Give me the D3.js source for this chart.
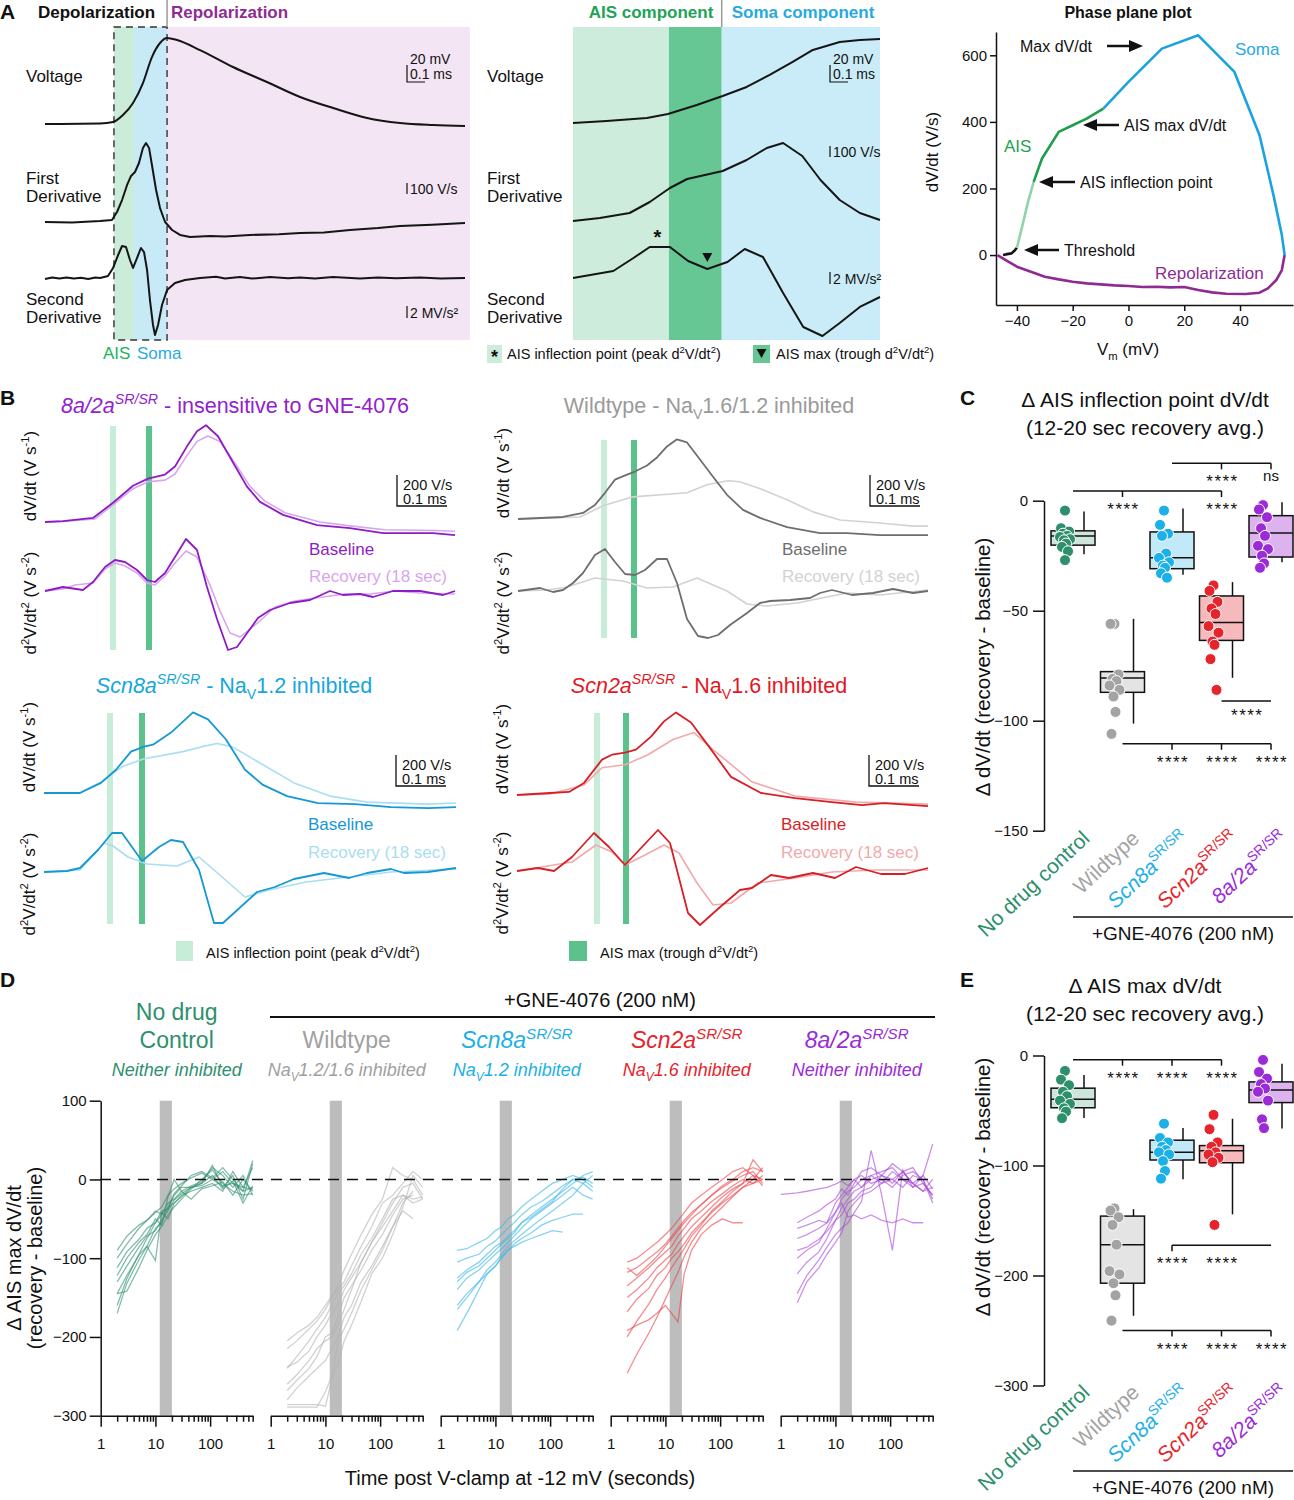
<!DOCTYPE html>
<html>
<head>
<meta charset="utf-8">
<title>AIS figure</title>
<script src="https://cdn.jsdelivr.net/npm/d3@7"></script>
<style>
  body { margin: 0; background: #fff; }
</style>
</head>
<body>
<script>
// ---------- panel A: one action potential (t in ms) ----------
const apVoltage = [[0,-45],[0.306,-44.4],[0.378,-42.6],[0.433,-34.4],[0.489,-20.3],[0.544,3.2],[0.594,33.8],[0.639,50.3],[0.678,56.2],[0.733,53.8],[0.861,42],[1.044,22.1],[1.233,4.4],[1.417,-13.2],[1.6,-26.2],[1.789,-37.9],[1.972,-43.8],[2.156,-46.2],[2.333,-47.4]];
const apFirst = [[0,0],[0.15,-5],[0.306,9],[0.372,18],[0.4,91],[0.428,200],[0.456,337],[0.478,419],[0.5,455],[0.522,537],[0.544,674],[0.561,719],[0.578,674],[0.594,519],[0.617,291],[0.639,127],[0.667,0],[0.706,-73],[0.75,-118],[0.806,-137],[0.917,-127],[1.0,-132],[1.139,-118],[1.3,-112],[1.417,-100],[1.55,-95],[1.694,-73],[1.85,-55],[1.972,-36],[2.15,-25],[2.333,-9]];
const apSecond = [[0,-0.15],[0.04,0.1],[0.08,-0.1],[0.12,0.1],[0.16,-0.1],[0.2,0.05],[0.24,-0.15],[0.28,0.1],[0.306,0],[0.35,0.33],[0.378,1.67],[0.406,3.83],[0.428,5.33],[0.45,5.17],[0.472,3],[0.489,1.67],[0.511,3.33],[0.533,5],[0.55,4.33],[0.567,1.33],[0.583,-3.67],[0.6,-7.83],[0.611,-9.5],[0.628,-7.83],[0.65,-4.5],[0.678,-2],[0.722,-0.83],[0.778,-0.33],[0.861,0],[0.95,0.2],[1.0,-0.1],[1.083,0.17],[1.15,-0.1],[1.25,0.15],[1.35,-0.05],[1.417,0.1],[1.5,-0.1],[1.6,0.15],[1.75,-0.1],[1.85,0.1],[1.95,-0.05],[2.083,0.1],[2.2,-0.1],[2.333,0]];
const apPhaseNames = ["AIS", "Soma", "Repolarization"];
const apPhaseBounds = [0.383, 0.494, 0.678, 2.36];

// zoomed depolarization
const zmVoltage = [[0,-45],[0.035,-42.6],[0.077,-39.1],[0.099,-34.4],[0.129,-23.8],[0.156,-13.2],[0.181,-2.6],[0.205,11.5],[0.229,26.8],[0.25,40.9],[0.278,50.3],[0.299,52.6],[0.32,53.8]];
const zmFirst = [[0,0],[0.028,30],[0.059,80],[0.08,190],[0.101,330],[0.119,420],[0.156,500],[0.181,610],[0.202,730],[0.219,780],[0.239,650],[0.258,410],[0.278,210],[0.299,80],[0.32,10]];
const zmSecond = [[0,0],[0.042,1.17],[0.063,3.33],[0.08,5.17],[0.101,5.17],[0.12,2.83],[0.14,1.5],[0.161,2.67],[0.179,4.83],[0.198,3.5],[0.219,-2.5],[0.24,-8.17],[0.26,-9.67],[0.278,-7.5],[0.299,-4.83],[0.32,-3.17]];
const zmPhaseBounds = [0, 0.1, 0.155, 0.32];
const zmInflection = [0.088, 5.17];
const zmTrough = [0.14, 1.5];

// phase plane (Vm in mV, dV/dt in V/s)
const ppThreshold = [[-45,0],[-44,2],[-42,5],[-41,12],[-40,22]];
const ppAisRise = [[-40,22],[-38,90],[-36,160],[-34,220]];
const ppAis = [[-34,220],[-31,290],[-28,330],[-25,370],[-20,390],[-15,410],[-9,440]];
const ppSoma = [[-9,440],[0,520],[12,620],[25,660],[38,550],[47,360],[52,180],[55,60],[56,0]];
const ppRepol = [[56,0],[55,-45],[53,-75],[50,-100],[47,-113],[42,-117],[35,-116],[30,-112],[25,-105],[20,-96],[15,-97],[10,-95],[5,-96],[0,-93],[-5,-91],[-10,-88],[-15,-85],[-20,-80],[-25,-73],[-30,-65],[-35,-50],[-40,-35],[-44,-15],[-47,0]];

// ---------- panel B: baseline / recovery derivatives (t in ms, V/s, MV/s^2) ----------
const b8a2aDv = [[0,0],[0.036,6],[0.096,26],[0.136,124],[0.176,234],[0.206,280],[0.24,306],[0.26,358],[0.284,488],[0.304,585],[0.322,624],[0.346,553],[0.376,384],[0.404,228],[0.43,130],[0.476,46],[0.544,-20],[0.61,-39],[0.676,-72],[0.776,-72],[0.82,-85]];
const b8a2aDvRec = [[0,0],[0.036,4],[0.1,20],[0.136,110],[0.176,215],[0.206,260],[0.24,270],[0.26,310],[0.284,430],[0.304,520],[0.326,555],[0.35,520],[0.38,380],[0.41,230],[0.44,135],[0.48,60],[0.55,0],[0.61,-25],[0.68,-50],[0.78,-55],[0.82,-60]];
const b8a2aD2 = [[0,0],[0.036,0.4],[0.076,0.1],[0.096,0.9],[0.12,2.4],[0.14,3.1],[0.16,2.9],[0.184,2.1],[0.204,1.1],[0.22,0.9],[0.24,1.8],[0.26,3.4],[0.282,5.2],[0.304,4.1],[0.324,0.4],[0.344,-2.8],[0.366,-5.9],[0.384,-5.6],[0.426,-2.7],[0.45,-1.9],[0.49,-1.2],[0.53,-0.9],[0.57,0],[0.596,-0.4],[0.63,-0.3],[0.656,-0.6],[0.696,0],[0.75,0],[0.796,-0.4],[0.82,0]];
const b8a2aD2Rec = [[0,0],[0.036,0.2],[0.06,0.6],[0.096,0.8],[0.12,2.2],[0.14,2.8],[0.16,2.5],[0.184,1.8],[0.204,0.8],[0.22,0.6],[0.24,1.5],[0.26,2.8],[0.282,4.0],[0.304,3.4],[0.33,0.6],[0.35,-2.0],[0.37,-4.2],[0.39,-4.6],[0.43,-3.0],[0.46,-1.6],[0.5,-1.0],[0.54,-0.7],[0.6,-0.3],[0.65,-0.3],[0.7,0],[0.75,-0.2],[0.82,-0.3]];

const bWtDv = [[0,0],[0.09,13],[0.13,39],[0.154,91],[0.174,169],[0.194,254],[0.218,286],[0.234,306],[0.258,345],[0.278,397],[0.298,468],[0.318,514],[0.338,494],[0.364,384],[0.39,273],[0.418,156],[0.45,59],[0.484,7],[0.538,-52],[0.604,-91],[0.658,-91],[0.724,-104],[0.82,-104]];
const bWtDvRec = [[0,0],[0.124,13],[0.17,85],[0.23,143],[0.338,169],[0.378,221],[0.42,247],[0.444,240],[0.49,189],[0.538,124],[0.59,46],[0.644,-6],[0.724,-26],[0.79,-46],[0.82,-46]];
const bWtD2 = [[0,0],[0.044,0.3],[0.07,-0.1],[0.09,0.1],[0.11,0.8],[0.13,1.8],[0.154,3.6],[0.174,4.2],[0.194,2.9],[0.214,1.7],[0.234,1.6],[0.254,2.1],[0.278,3.2],[0.298,3.2],[0.318,0.8],[0.338,-2.8],[0.36,-4.5],[0.38,-4.7],[0.4,-4.4],[0.424,-3.4],[0.458,-2.2],[0.484,-1.2],[0.504,-1.0],[0.544,-0.9],[0.584,-0.7],[0.604,-0.2],[0.628,0.1],[0.668,-0.4],[0.71,-0.2],[0.75,0.2],[0.79,-0.2],[0.82,0]];
const bWtD2Rec = [[0,0],[0.058,0.1],[0.098,0.4],[0.154,1.3],[0.21,1.0],[0.258,0.3],[0.31,0.4],[0.358,1.3],[0.418,0],[0.458,-1.3],[0.498,-1.5],[0.558,-1.2],[0.658,-0.2],[0.724,-0.4],[0.82,0.1]];

const bScn8aDv = [[0,0],[0.072,0],[0.114,65],[0.144,150],[0.174,267],[0.2,299],[0.218,312],[0.254,390],[0.298,520],[0.328,475],[0.364,345],[0.402,150],[0.438,52],[0.486,-20],[0.548,-65],[0.622,-72],[0.694,-91],[0.768,-98],[0.824,-91]];
const bScn8aDvRec = [[0,0],[0.072,3],[0.114,72],[0.156,169],[0.2,221],[0.278,267],[0.316,299],[0.346,319],[0.376,299],[0.438,182],[0.5,65],[0.572,-20],[0.646,-59],[0.768,-72],[0.824,-65]];
const bScn8aD2 = [[0,0],[0.046,0.1],[0.072,0.4],[0.108,2.2],[0.136,3.9],[0.156,3.9],[0.196,1.1],[0.23,2.5],[0.254,3.2],[0.278,3.0],[0.31,0.2],[0.34,-5.1],[0.358,-5.1],[0.426,-2.0],[0.462,-1.5],[0.5,-0.7],[0.56,-0.1],[0.61,-0.6],[0.646,-0.1],[0.694,0.3],[0.72,-0.1],[0.768,0],[0.824,0.4]];
const bScn8aD2Rec = [[0,0],[0.072,0.2],[0.12,2.9],[0.138,2.6],[0.168,1.5],[0.206,0.8],[0.266,0.6],[0.31,1.5],[0.34,0.2],[0.402,-2.5],[0.45,-1.8],[0.524,-1.0],[0.61,-0.5],[0.694,0],[0.824,0.3]];

const bScn2aDv = [[0,0],[0.066,13],[0.104,20],[0.134,78],[0.17,228],[0.19,260],[0.216,273],[0.238,293],[0.268,377],[0.294,475],[0.318,533],[0.348,468],[0.384,312],[0.428,117],[0.488,13],[0.556,-20],[0.63,-46],[0.69,-65],[0.734,-52],[0.822,-72]];
const bScn2aDvRec = [[0,0],[0.066,7],[0.134,65],[0.17,176],[0.216,195],[0.262,260],[0.312,358],[0.354,403],[0.392,293],[0.47,85],[0.556,-7],[0.678,-46],[0.822,-59]];
const bScn2aD2 = [[0,0],[0.042,0.3],[0.074,0],[0.11,1.4],[0.154,3.8],[0.184,2.4],[0.216,0.6],[0.25,2.4],[0.282,4.1],[0.306,2.8],[0.342,-4.2],[0.366,-5.4],[0.404,-3.7],[0.446,-1.9],[0.47,-1.7],[0.508,-0.4],[0.544,-0.7],[0.592,-0.2],[0.636,-0.7],[0.678,0.4],[0.728,-0.3],[0.776,-0.3],[0.822,0.3]];
const bScn2aD2Rec = [[0,0],[0.11,0.9],[0.158,2.6],[0.19,1.9],[0.216,0.6],[0.256,1.6],[0.294,2.6],[0.324,1.8],[0.36,-1.2],[0.392,-3.4],[0.428,-3.2],[0.482,-1.2],[0.556,-0.7],[0.63,-0.1],[0.716,0.1],[0.822,0.1]];

// AIS inflection and AIS max times for each cell in B (ms)
const bInflectionT = [0.136, 0.172, 0.132, 0.16];
const bMaxT = [0.208, 0.232, 0.196, 0.218];

// ---------- panels C and E ----------
const groupNames = ["No drug control", "Wildtype", "Scn8a", "Scn2a", "8a/2a"];
// whisker low, q1, median, q3, whisker high
const inflBoxes = [[-24.3,-20.2,-16.1,-13.7,-4.9],[-101.3,-87.1,-80.6,-77.7,-53.7],[-33.7,-30.9,-25.9,-14.2,-3.6],[-80.5,-63.5,-55.4,-43.3,-37],[-28,-25.6,-14.7,-6.8,-0.7]];
const inflPoints = [
  [-4.5,-12.5,-14,-15,-16,-16.5,-17.5,-18,-19.5,-21,-23,-27],
  [-56,-56,-79,-81,-82,-84,-86,-89,-96,-106],
  [-4.5,-11,-15,-16,-24,-26,-28,-29.5,-30.5,-33,-35],
  [-38.5,-41,-46,-49,-51.5,-57,-60,-64,-65.5,-72,-86],
  [-2,-4,-7.5,-12.5,-16,-20.5,-22,-25,-28.5,-30.5]
];
const maxBoxes = [[-56.9,-47.5,-39.7,-29.7,-17.8],[-236.6,-207,-172,-146,-139.7],[-112.5,-95,-88,-77,-66],[-144.4,-97.5,-86.6,-81.9,-57.5],[-66.3,-42.8,-31.3,-24,-7.5]];
const maxPoints = [
  [-14,-22,-27,-33,-37,-41,-44,-48,-51,-57],
  [-139,-141,-147,-154,-172,-196,-199,-207,-218,-241],
  [-62,-75,-79,-83,-86,-88,-90,-96,-105,-112],
  [-54,-67,-79,-83,-88,-90,-93,-97,-154],
  [-4,-15,-21,-26,-30,-33,-41,-58,-66]
];
const inflSig = [
  {y: 17, from: 2, to: 4, ticks: [3, 4], marks: [[3, "****"], [4, "ns"]]},
  {y: 4.4, from: 0, to: 3, ticks: [1, 3], marks: [[1, "****"], [3, "****"]]},
  {y: -91, from: 3, to: 4, ticks: [], marks: [[3.5, "****"]]},
  {y: -110.5, from: 1, to: 4, ticks: [2, 3, 4], marks: [[2, "****"], [3, "****"], [4, "****"]]}
];
const maxSig = [
  {y: -3.8, from: 0, to: 3, ticks: [1, 2, 3], marks: [[1, "****"], [2, "****"], [3, "****"]]},
  {y: -172.5, from: 2, to: 4, ticks: [2], marks: [[2, "****"], [3, "****"]]},
  {y: -250, from: 1, to: 4, ticks: [2, 3, 4], marks: [[2, "****"], [3, "****"], [4, "****"]]}
];

// ---------- panel D: AIS max dV/dt recovery over time ----------
const dTimes = [1, 2, 3, 5, 7, 10, 13, 17, 22, 30, 45, 70, 110, 170, 260, 400, 600];
const dControl = [
  [null,-90,-72,-58,-52,-42,-35,-20,-12,-5,2,8,0,-8,-5,-15,-10],
  [null,-100,-82,-62,-52,-40,-44,-30,-25,-15,-8,-3,15,5,-10,5,-20],
  [null,-112,-92,-76,-62,-55,-45,-36,-30,-20,-15,-10,-5,-15,10,-10,-12],
  [null,-130,-110,-86,-72,-65,-52,-40,-26,-18,-10,-5,18,-10,5,-25,20],
  [null,-145,-142,-112,-90,-70,-60,-45,-35,-25,-12,0,12,-5,-15,-20,-18],
  [null,-170,-132,-102,-85,-62,-55,-35,-20,-10,-10,-8,0,10,-5,-10,15],
  [null,-145,-122,-96,-85,-103,-42,-50,-30,-22,-10,-5,5,-12,-2,-30,-8],
  [null,-122,-100,-80,-70,-50,-58,-22,0,-15,-25,-12,-8,-3,-20,0,-15],
  [null,-160,-126,-95,-75,-55,-40,-38,-18,-8,5,10,2,15,0,-15,24]
];
const dWildtype = [
  [null,-205,-195,-185,-175,-160,-148,-135,-115,-95,-70,-45,-25,15,5,0,-20],
  [null,-215,-205,-190,-180,-165,-150,-140,-130,-110,-85,-60,-30,-20,-5,10,0],
  [null,-240,-225,-205,-190,-175,-160,-145,-135,-120,-95,-75,-50,-25,-20,-25,-22],
  [null,-238,-232,-218,-200,-185,-170,-160,-140,-125,-105,-80,-60,-40,-20,-30,-25],
  [null,-268,-255,-240,-225,-200,-195,-175,-150,-135,-115,-90,-70,-45,-25,-20,null],
  [null,-280,-265,-250,-240,-230,-215,-200,-175,-160,-130,-110,-85,-60,-40,-50,null],
  [null,-289,-289,-289,-289,-270,-250,-235,-205,-185,-155,-120,-100,-70,-35,5,-10],
  [null,-286,-286,-286,-286,-288,-255,-205,-190,-170,-140,-115,-90,-60,-30,-15,null],
  [null,-260,-248,-230,-215,-205,-200,-185,-165,-140,-105,-80,-55,-30,-10,-5,-25]
];
const dScn8a = [
  [null,-90,-88,-80,-75,-65,-60,-50,-45,-35,-25,-15,-5,0,5,0,-10],
  [null,-105,-100,-95,-85,-78,-70,-62,-55,-45,-35,-28,-18,-8,0,-5,-15],
  [null,-125,-115,-105,-95,-85,-80,-72,-65,-55,-45,-35,-25,-15,-5,5,10],
  [null,-140,-125,-115,-105,-95,-88,-80,-72,-62,-50,-40,-30,-20,-10,-20,-25],
  [null,-165,-150,-130,-115,-105,-95,-85,-78,-70,-60,-50,-40,-30,-20,-5,5],
  [null,-192,-170,-140,-120,-110,-100,-90,-85,-80,-75,-70,-65,-67,null,null,null],
  [null,-160,-145,-130,-120,-110,-98,-90,-82,-75,-68,-58,-52,-48,-44,-44,null],
  [null,-130,-118,-110,-100,-90,-82,-75,-68,-55,-48,-38,-28,-12,0,3,-5]
];
const dScn2a = [
  [null,-105,-100,-88,-80,-70,-62,-52,-42,-30,-20,-10,0,10,15,5,0],
  [null,-118,-112,-100,-92,-82,-72,-62,-52,-42,-32,-20,-10,-2,5,10,-5],
  [null,-135,-125,-112,-102,-92,-85,-72,-62,-50,-40,-28,-18,-8,0,-5,5],
  [null,-150,-140,-125,-112,-102,-95,-82,-72,-60,-48,-35,-22,-12,-5,25,10],
  [null,-168,-152,-138,-122,-112,-100,-92,-82,-68,-55,-42,-30,-20,-10,0,15],
  [null,-192,-185,-178,-170,-160,-170,-181,-120,-90,-70,-58,-50,-55,-55,null,null],
  [null,-246,-222,-195,-175,-152,-135,-118,-98,-80,-62,-48,-35,-22,-10,-5,0],
  [null,-200,-180,-158,-140,-125,-112,-100,-88,-72,-58,-40,-28,-15,-5,5,-8],
  [null,-112,-122,-108,-98,-85,-75,-65,-55,-45,-32,-20,-8,0,10,15,10]
];
const d8a2a = [
  [-19,-17,-15,-12,-10,-6,-2,-8,0,-10,5,-5,10,0,-5,-15,-10],
  [null,-55,-48,-40,-32,-25,-12,-20,-5,10,15,5,0,10,-5,5,45],
  [null,-75,-70,-62,-55,-42,-30,-48,-45,-50,-45,-52,-55,-50,-55,-55,null],
  [null,-100,-90,-80,-62,-42,-25,-15,-10,0,5,10,15,0,-10,-5,-20],
  [null,-120,-105,-92,-75,-52,-36,-25,-15,-10,0,5,-5,10,15,-5,-20],
  [null,-145,-122,-102,-86,-70,-62,-55,-42,-28,37,-20,-90,12,-10,5,-12],
  [null,-157,-130,-112,-95,-80,-68,-40,-30,-20,-15,-5,0,-10,5,0,-25],
  [null,-90,-86,-76,-66,-52,-45,-30,-25,-15,-10,5,20,10,-5,-15,0],
  [null,-62,-58,-52,-55,-30,-20,-10,0,5,-5,0,-10,5,10,0,-30]
];
const dWindow = [12, 20];  // averaging window (s)

// ---------------------------------------------------------------
const FONT = "Arial, 'Liberation Sans', Helvetica, sans-serif";
const C_CTRL = "#2e8f6d", C_WT = "#a3a3a3", C_8A = "#1cb0e8", C_2A = "#e6242b", C_8A2A = "#9b2bd6";
const groupColors = [C_CTRL, C_WT, C_8A, C_2A, C_8A2A];
const groupFills = ["#cde5da", "#e4e4e4", "#c2e9f8", "#f6b9bc", "#dcb2ef"];

const svg = d3.select("body").append("svg")
  .attr("width", 1294).attr("height", 1500)
  .attr("font-family", FONT);

// text with optional sup/sub/italic pieces
function rich(g, x, y, parts, o = {}) {
  const size = o.size || 16;
  const t = g.append("text")
    .attr("x", x).attr("y", y)
    .attr("font-size", size)
    .attr("fill", o.color || "#111")
    .attr("text-anchor", o.anchor || "start");
  if (o.bold) t.attr("font-weight", "bold");
  if (o.transform) t.attr("transform", o.transform);
  if (o.spacing) t.attr("letter-spacing", o.spacing);
  let shift = 0;
  parts.forEach(p => {
    if (typeof p === "string") p = [p];
    const [s, mode, ital] = p;
    const target = mode === "sup" ? -0.4 * size : mode === "sub" ? 0.28 * size : 0;
    const ts = t.append("tspan").text(s).attr("dy", target - shift);
    if (mode) ts.attr("font-size", size * 0.66);
    if (ital || o.italic) ts.attr("font-style", "italic");
    shift = target;
  });
  return t;
}

function trace(g, data, x, y, color, width, curve) {
  g.append("path").datum(data)
    .attr("fill", "none")
    .attr("stroke", color)
    .attr("stroke-width", width)
    .attr("stroke-linejoin", "round")
    .attr("d", d3.line().x(d => x(d[0])).y(d => y(d[1])).curve(curve || d3.curveLinear));
}

function arrow(g, x1, x2, y) {
  const dir = x2 > x1 ? 1 : -1;
  g.append("line").attr("x1", x1).attr("x2", x2 - dir * 10).attr("y1", y).attr("y2", y)
    .attr("stroke", "#111").attr("stroke-width", 2.5);
  g.append("path")
    .attr("d", `M${x2},${y}L${x2 - dir * 14},${y - 6}L${x2 - dir * 14},${y + 6}Z`)
    .attr("fill", "#111");
}

function styleAxis(a, size) {
  a.attr("font-family", FONT).attr("font-size", size || 15);
  a.selectAll("path, line").attr("stroke", "#111").attr("stroke-width", 1.5);
  a.selectAll("text").attr("fill", "#111");
}

// ============ PANEL A ============
const gA = svg.append("g");
rich(gA, 0, 19, ["A"], {size: 21, bold: true});

// --- full AP ---
const ax = d3.scaleLinear().domain([0, 2.333]).range([45, 465]);
const aV = d3.scaleLinear().domain([-45, 56.2]).range([124, 38]);
const aD1 = d3.scaleLinear().domain([0, 719]).range([222, 143]);
const aD2 = d3.scaleLinear().domain([0, -9.5]).range([278, 335]);
const apFill = {AIS: "#cbecd9", Soma: "#c8eaf7", Repolarization: "#f3e5f3"};
apPhaseNames.forEach((n, i) => {
  gA.append("rect")
    .attr("x", ax(apPhaseBounds[i])).attr("width", ax(apPhaseBounds[i + 1]) - ax(apPhaseBounds[i]))
    .attr("y", 27).attr("height", 313).attr("fill", apFill[n]);
});
gA.append("rect")
  .attr("x", ax(apPhaseBounds[0])).attr("width", ax(apPhaseBounds[2]) - ax(apPhaseBounds[0]))
  .attr("y", 27).attr("height", 313)
  .attr("fill", "none").attr("stroke", "#333").attr("stroke-width", 1.4).attr("stroke-dasharray", "7,5");
gA.append("line").attr("x1", ax(apPhaseBounds[2])).attr("x2", ax(apPhaseBounds[2]))
  .attr("y1", 0).attr("y2", 27).attr("stroke", "#999").attr("stroke-width", 1.5);
rich(gA, 38, 18, ["Depolarization"], {size: 17, bold: true});
rich(gA, 171, 18, ["Repolarization"], {size: 17, bold: true, color: "#8e2c91"});

trace(gA, apVoltage, ax, aV, "#151515", 2, d3.curveMonotoneX);
trace(gA, apFirst, ax, aD1, "#151515", 2);
trace(gA, apSecond, ax, aD2, "#151515", 2);

function traceLabels(g, x) {
  rich(g, x, 82, ["Voltage"], {size: 17});
  rich(g, x, 184, ["First"], {size: 17});
  rich(g, x, 202, ["Derivative"], {size: 17});
  rich(g, x, 305, ["Second"], {size: 17});
  rich(g, x, 323, ["Derivative"], {size: 17});
}
traceLabels(gA, 26);

function scaleBars(g, xb, yV, yD1, yD2) {
  rich(g, xb + 3, yV, ["20 mV"], {size: 14});
  rich(g, xb + 3, yV + 15, ["0.1 ms"], {size: 14});
  g.append("path").attr("d", `M${xb},${yV + 1}V${yV + 18}H${xb + 18}`)
    .attr("fill", "none").attr("stroke", "#111").attr("stroke-width", 1.2);
  g.append("line").attr("x1", xb).attr("x2", xb).attr("y1", yD1 - 11).attr("y2", yD1)
    .attr("stroke", "#111").attr("stroke-width", 1.2);
  rich(g, xb + 3, yD1, ["100 V/s"], {size: 14});
  g.append("line").attr("x1", xb).attr("x2", xb).attr("y1", yD2 - 12).attr("y2", yD2)
    .attr("stroke", "#111").attr("stroke-width", 1.2);
  rich(g, xb + 3, yD2, ["2 MV/s²"], {size: 14});
}
scaleBars(gA, 407, 64, 194, 318);
rich(gA, 103, 359, ["AIS"], {size: 17, color: "#22b25b"});
rich(gA, 137, 359, ["Soma"], {size: 17, color: "#29abe2"});

// --- zoomed depolarization ---
const mx = d3.scaleLinear().domain([0, 0.32]).range([573, 880]);
const mV = d3.scaleLinear().domain([-45, 53.8]).range([123, 39]);
const mD1 = d3.scaleLinear().domain([0, 780]).range([221, 143]);
const mD2 = d3.scaleLinear().domain([0, -9.67]).range([278, 336]);
const zmFill = ["#cdecdb", "#66c795", "#c9ecf8"];
zmFill.forEach((c, i) => {
  gA.append("rect")
    .attr("x", mx(zmPhaseBounds[i])).attr("width", mx(zmPhaseBounds[i + 1]) - mx(zmPhaseBounds[i]))
    .attr("y", 27).attr("height", 313).attr("fill", c);
});
gA.append("line").attr("x1", mx(zmPhaseBounds[2])).attr("x2", mx(zmPhaseBounds[2]))
  .attr("y1", 0).attr("y2", 27).attr("stroke", "#999").attr("stroke-width", 1.5);
rich(gA, 651, 18, ["AIS component"], {size: 17, bold: true, color: "#21a356", anchor: "middle"});
rich(gA, 803, 18, ["Soma component"], {size: 17, bold: true, color: "#27aae1", anchor: "middle"});
trace(gA, zmVoltage, mx, mV, "#151515", 2);
trace(gA, zmFirst, mx, mD1, "#151515", 2);
trace(gA, zmSecond, mx, mD2, "#151515", 2);
rich(gA, mx(zmInflection[0]), mD2(zmInflection[1]) - 3, ["*"], {size: 20, bold: true, anchor: "middle"});
gA.append("path")
  .attr("d", `M${mx(zmTrough[0]) - 5},${mD2(zmTrough[1]) - 16}h10l-5,9z`).attr("fill", "#111");
traceLabels(gA, 487);
scaleBars(gA, 830, 64, 157, 284);

// legend under zoom
gA.append("rect").attr("x", 487).attr("y", 345).attr("width", 15).attr("height", 18).attr("fill", "#cdecdb");
rich(gA, 494.5, 363, ["*"], {size: 18, bold: true, anchor: "middle"});
rich(gA, 507, 359, ["AIS inflection point (peak d", ["2", "sup"], "V/dt", ["2", "sup"], ")"], {size: 14.5});
gA.append("rect").attr("x", 753).attr("y", 345).attr("width", 17).attr("height", 18).attr("fill", "#66c795");
gA.append("path").attr("d", "M756.5,349h10l-5,9z").attr("fill", "#111");
rich(gA, 776, 359, ["AIS max (trough d", ["2", "sup"], "V/dt", ["2", "sup"], ")"], {size: 14.5});

// --- phase plane ---
const px = d3.scaleLinear().domain([-47.5, 59]).range([996, 1293]);
const py = d3.scaleLinear().domain([-150, 670]).range([305, 32]);
rich(gA, 1128, 18, ["Phase plane plot"], {size: 16, bold: true, anchor: "middle"});
styleAxis(gA.append("g").attr("transform", "translate(996,0)")
  .call(d3.axisLeft(py).tickValues([0, 200, 400, 600]).tickSize(6).tickSizeOuter(0).tickPadding(3)));
styleAxis(gA.append("g").attr("transform", "translate(0,305)")
  .call(d3.axisBottom(px).tickValues([-40, -20, 0, 20, 40]).tickSize(6).tickSizeOuter(0).tickPadding(4)));
trace(gA, ppRepol, px, py, "#8e2a90", 2.6);
trace(gA, ppThreshold, px, py, "#151515", 2.6);
trace(gA, ppAisRise, px, py, "#8fd4a9", 2.6);
trace(gA, ppAis, px, py, "#1f9e4b", 2.6);
trace(gA, ppSoma, px, py, "#1ba2e0", 2.6);
rich(gA, 1128, 355, ["V", ["m", "sub"], " (mV)"], {size: 17, anchor: "middle"});
rich(gA, 0, 0, ["dV/dt (V/s)"], {size: 17, anchor: "middle", transform: "translate(938,152) rotate(-90)"});
rich(gA, 1020, 52, ["Max dV/dt"], {size: 16});
arrow(gA, 1107, 1143, 46);
rich(gA, 1235, 55, ["Soma"], {size: 17, color: "#29a9e1"});
rich(gA, 1124, 131, ["AIS max dV/dt"], {size: 16});
arrow(gA, 1119, 1083, 125);
rich(gA, 1004, 152, ["AIS"], {size: 17, color: "#1fa34e"});
rich(gA, 1080, 188, ["AIS inflection point"], {size: 16});
arrow(gA, 1075, 1039, 182);
rich(gA, 1064, 256, ["Threshold"], {size: 16});
arrow(gA, 1059, 1024, 250);
rich(gA, 1155, 279, ["Repolarization"], {size: 17, color: "#8e2a90"});

// ============ PANEL B ============
const gB = svg.append("g");
rich(gB, 0, 405, ["B"], {size: 21, bold: true});
const bCells = [
  {dv: b8a2aDv, dvRec: b8a2aDvRec, d2: b8a2aD2, d2Rec: b8a2aD2Rec, x0: 45, dvRest: 522, d2Rest: 591,
   bar: [426, 650], sb: 506, lab: [555, 582], ty: 413, tx: 235, base: "#8e1cc4", rec: "#d8a6ee", tcol: "#9322cc",
   title: [["8a/2a", "", true], ["SR/SR", "sup", true], " - insensitive to GNE-4076"]},
  {dv: bWtDv, dvRec: bWtDvRec, d2: bWtD2, d2Rec: bWtD2Rec, x0: 518, dvRest: 519, d2Rest: 591,
   bar: [440, 638], sb: 506, lab: [555, 582], ty: 413, tx: 709, base: "#6e6e6e", rec: "#d2d2d2", tcol: "#9a9a9a",
   title: ["Wildtype - Na", ["V", "sub"], "1.6/1.2 inhibited"]},
  {dv: bScn8aDv, dvRec: bScn8aDvRec, d2: bScn8aD2, d2Rec: bScn8aD2Rec, x0: 44, dvRest: 793, d2Rest: 872,
   bar: [713, 924], sb: 786, lab: [830, 858], ty: 693, tx: 234, base: "#1598d3", rec: "#a9def2", tcol: "#16a6de",
   title: [["Scn8a", "", true], ["SR/SR", "sup", true], " - Na", ["V", "sub"], "1.2 inhibited"]},
  {dv: bScn2aDv, dvRec: bScn2aDvRec, d2: bScn2aD2, d2Rec: bScn2aD2Rec, x0: 517, dvRest: 795, d2Rest: 871,
   bar: [713, 924], sb: 786, lab: [830, 858], ty: 693, tx: 709, base: "#d81e26", rec: "#f3a9ab", tcol: "#e3181f",
   title: [["Scn2a", "", true], ["SR/SR", "sup", true], " - Na", ["V", "sub"], "1.6 inhibited"]}
];
bCells.forEach((c, i) => {
  const x = d3.scaleLinear().domain([0, 0.82]).range([c.x0, c.x0 + 410]);
  const yDv = d3.scaleLinear().domain([0, 200]).range([c.dvRest, c.dvRest - 31]);
  const yD2 = d3.scaleLinear().domain([0, 1]).range([c.d2Rest, c.d2Rest - 10]);
  gB.append("rect").attr("x", x(bInflectionT[i]) - 3).attr("width", 6)
    .attr("y", c.bar[0]).attr("height", c.bar[1] - c.bar[0]).attr("fill", "#c7ecd8");
  gB.append("rect").attr("x", x(bMaxT[i]) - 3).attr("width", 6)
    .attr("y", c.bar[0]).attr("height", c.bar[1] - c.bar[0]).attr("fill", "#5cc28c");
  trace(gB, c.dvRec, x, yDv, c.rec, 1.6);
  trace(gB, c.d2Rec, x, yD2, c.rec, 1.6);
  trace(gB, c.dv, x, yDv, c.base, 1.8);
  trace(gB, c.d2, x, yD2, c.base, 1.8);
  rich(gB, c.tx, c.ty, c.title, {size: 21.5, color: c.tcol, anchor: "middle"});
  // scale bar: 200 V/s, 0.1 ms
  const sx = x(0.704);
  gB.append("path")
    .attr("d", `M${sx},${c.sb - (yDv(0) - yDv(200))}V${c.sb}H${sx + x(0.1) - x(0)}`)
    .attr("fill", "none").attr("stroke", "#111").attr("stroke-width", 1.3);
  rich(gB, sx + 6, c.sb - 16, ["200 V/s"], {size: 14.5});
  rich(gB, sx + 6, c.sb - 2, ["0.1 ms"], {size: 14.5});
  rich(gB, c.x0 + 264, c.lab[0], ["Baseline"], {size: 17, color: c.base});
  rich(gB, c.x0 + 264, c.lab[1], ["Recovery (18 sec)"], {size: 17, color: c.rec});
  rich(gB, 0, 0, ["dV/dt (V s", ["-1", "sup"], ")"],
    {size: 17, anchor: "middle", transform: `translate(${c.x0 - 9},${c.dvRest - 46}) rotate(-90)`});
  rich(gB, 0, 0, ["d", ["2", "sup"], "V/dt", ["2", "sup"], " (V s", ["-2", "sup"], ")"],
    {size: 17, anchor: "middle", transform: `translate(${c.x0 - 9},${c.d2Rest + 12}) rotate(-90)`});
});
gB.append("rect").attr("x", 176).attr("y", 941).attr("width", 17).attr("height", 20).attr("fill", "#c7ecd8");
rich(gB, 206, 958, ["AIS inflection point (peak d", ["2", "sup"], "V/dt", ["2", "sup"], ")"], {size: 14.5});
gB.append("rect").attr("x", 569).attr("y", 941).attr("width", 18).attr("height", 20).attr("fill", "#5cc28c");
rich(gB, 600, 958, ["AIS max (trough d", ["2", "sup"], "V/dt", ["2", "sup"], ")"], {size: 14.5});

// ============ PANELS C & E ============
const catX = d3.scalePoint().domain(groupNames).range([1073, 1271]);
const catLabel = [
  ["No drug control"], ["Wildtype"],
  [["Scn8a", "", true], ["SR/SR", "sup"]],
  [["Scn2a", "", true], ["SR/SR", "sup"]],
  [["8a/2a", "", true], ["SR/SR", "sup"]]
];
const dotOffsets = [0, -4, 4, -2, 2, -5, 5, -1, 1, -3, 3, 0];

function boxPanel(cfg) {
  const g = svg.append("g");
  const y = d3.scaleLinear().domain(cfg.domain).range(cfg.range);
  rich(g, 960, cfg.letterY, [cfg.letter], {size: 21, bold: true});
  rich(g, 1145, cfg.titleY, cfg.title, {size: 21, anchor: "middle"});
  rich(g, 1145, cfg.titleY + 28, ["(12-20 sec recovery avg.)"], {size: 21, anchor: "middle"});
  styleAxis(g.append("g").attr("transform", "translate(1044,0)")
    .call(d3.axisLeft(y).tickValues(cfg.ticks).tickSize(11).tickSizeOuter(0).tickPadding(5)));
  rich(g, 0, 0, ["Δ dV/dt (recovery - baseline)"],
    {size: 20.5, anchor: "middle", transform: `translate(990,${cfg.ylabY}) rotate(-90)`});
  groupNames.forEach((n, i) => {
    const cx = catX(n), b = cfg.boxes[i];
    g.append("line").attr("x1", cx + 11).attr("x2", cx + 11).attr("y1", y(b[0])).attr("y2", y(b[1]))
      .attr("stroke", "#111").attr("stroke-width", 1.5);
    g.append("line").attr("x1", cx + 11).attr("x2", cx + 11).attr("y1", y(b[3])).attr("y2", y(b[4]))
      .attr("stroke", "#111").attr("stroke-width", 1.5);
    g.append("rect").attr("x", cx - 22).attr("width", 44).attr("y", y(b[3])).attr("height", y(b[1]) - y(b[3]))
      .attr("fill", groupFills[i]).attr("stroke", "#111").attr("stroke-width", 1.5);
    g.append("line").attr("x1", cx - 22).attr("x2", cx + 22).attr("y1", y(b[2])).attr("y2", y(b[2]))
      .attr("stroke", "#111").attr("stroke-width", 1.5);
    g.selectAll(null).data(cfg.points[i]).enter().append("circle")
      .attr("cx", (d, k) => cx - 8 + dotOffsets[k % dotOffsets.length])
      .attr("cy", d => y(d)).attr("r", 5.5)
      .attr("fill", groupColors[i]).attr("stroke", "#fff").attr("stroke-width", 1);
    rich(g, 0, 0, catLabel[i], {size: 21, color: groupColors[i], anchor: "end",
      transform: `translate(${cx + 18},${cfg.catY}) rotate(-43)`});
  });
  const xAt = k => Number.isInteger(k) ? catX(groupNames[k]) : (catX(groupNames[Math.floor(k)]) + catX(groupNames[Math.ceil(k)])) / 2;
  cfg.sig.forEach(s => {
    const ly = y(s.y);
    g.append("line").attr("x1", xAt(s.from)).attr("x2", xAt(s.to)).attr("y1", ly).attr("y2", ly)
      .attr("stroke", "#111").attr("stroke-width", 1.5);
    s.ticks.forEach(k => g.append("line").attr("x1", xAt(k)).attr("x2", xAt(k)).attr("y1", ly).attr("y2", ly + 6)
      .attr("stroke", "#111").attr("stroke-width", 1.5));
    s.marks.forEach(([k, m]) => {
      if (m === "ns") rich(g, xAt(k), ly + 18, [m], {size: 15, anchor: "middle"});
      else rich(g, xAt(k) + 1, ly + (s.ticks.length ? 24 : 20), [m], {size: 17, anchor: "middle", spacing: 1.5});
    });
  });
  g.append("line").attr("x1", 1073).attr("x2", 1293).attr("y1", cfg.gneY).attr("y2", cfg.gneY)
    .attr("stroke", "#111").attr("stroke-width", 1.5);
  rich(g, 1183, cfg.gneY + 23, ["+GNE-4076 (200 nM)"], {size: 19, anchor: "middle"});
}
boxPanel({letter: "C", letterY: 405, title: ["Δ AIS inflection point dV/dt"], titleY: 407,
  domain: [0, -150], range: [500.7, 830.7], ticks: [0, -50, -100, -150], ylabY: 667,
  boxes: inflBoxes, points: inflPoints, sig: inflSig, catY: 840, gneY: 917});
boxPanel({letter: "E", letterY: 987, title: ["Δ AIS max dV/dt"], titleY: 993,
  domain: [0, -300], range: [1055.5, 1385.5], ticks: [0, -100, -200, -300], ylabY: 1187,
  boxes: maxBoxes, points: maxPoints, sig: maxSig, catY: 1394, gneY: 1471});

// ============ PANEL D ============
const gD = svg.append("g");
rich(gD, 0, 987, ["D"], {size: 21, bold: true});
const dGroups = [
  {traces: dControl, color: C_CTRL, name: [["No drug"], ["Control"]], sub: ["Neither inhibited"]},
  {traces: dWildtype, color: "#b3b3b3", tcol: "#a0a0a0", name: [["Wildtype"]], sub: ["Na", ["V", "sub"], "1.2/1.6 inhibited"]},
  {traces: dScn8a, color: "#35b6e8", tcol: C_8A, name: [[["Scn8a", "", true], ["SR/SR", "sup", true]]], sub: ["Na", ["V", "sub"], "1.2 inhibited"]},
  {traces: dScn2a, color: "#ee4046", tcol: C_2A, name: [[["Scn2a", "", true], ["SR/SR", "sup", true]]], sub: ["Na", ["V", "sub"], "1.6 inhibited"]},
  {traces: d8a2a, color: "#a848da", tcol: C_8A2A, name: [[["8a/2a", "", true], ["SR/SR", "sup", true]]], sub: ["Neither inhibited"]}
];
const dY = d3.scaleLinear().domain([-300, 100]).range([1415.7, 1100.7]);
rich(gD, 600, 1007, ["+GNE-4076 (200 nM)"], {size: 20, anchor: "middle"});
gD.append("line").attr("x1", 270).attr("x2", 935).attr("y1", 1017).attr("y2", 1017)
  .attr("stroke", "#111").attr("stroke-width", 1.8);
const minorTicks = [2,3,4,5,6,7,8,9,20,30,40,50,60,70,80,90,200,300,400,500,600];
dGroups.forEach((grp, i) => {
  const x0 = 100.7 + 170 * i;
  const xs = d3.scaleLog().domain([1, 600]).range([x0, x0 + 152]);
  const col = grp.tcol || grp.color;
  const cx = x0 + 76;
  if (grp.name.length === 2) {
    rich(gD, cx, 1020, grp.name[0], {size: 23, color: col, anchor: "middle"});
    rich(gD, cx, 1048, grp.name[1], {size: 23, color: col, anchor: "middle"});
  } else {
    rich(gD, cx, 1048, grp.name[0], {size: 23, color: col, anchor: "middle"});
  }
  rich(gD, cx, 1076, grp.sub, {size: 18, color: col, anchor: "middle", italic: true});
  gD.append("rect").attr("x", xs(dWindow[0])).attr("width", xs(dWindow[1]) - xs(dWindow[0]))
    .attr("y", dY(100)).attr("height", dY(-300) - dY(100)).attr("fill", "#bdbdbd");
  const line = d3.line().defined(d => d[1] != null).x(d => xs(d[0])).y(d => dY(d[1]));
  grp.traces.forEach(tr => {
    gD.append("path").datum(dTimes.map((t, k) => [t, tr[k]]))
      .attr("fill", "none").attr("stroke", grp.color).attr("stroke-width", 1.3)
      .attr("stroke-opacity", 0.6).attr("d", line);
  });
  const axg = gD.append("g").attr("transform", `translate(0,${dY(-300)})`)
    .call(d3.axisBottom(xs).tickValues([1, 10, 100]).tickSize(11).tickSizeOuter(0).tickPadding(12).tickFormat(d3.format("d")));
  styleAxis(axg, 15);
  const mg = gD.append("g").attr("transform", `translate(0,${dY(-300)})`)
    .call(d3.axisBottom(xs).tickValues(minorTicks).tickSize(6).tickSizeOuter(0).tickFormat(""));
  styleAxis(mg, 15);
  mg.select(".domain").remove();
});
gD.append("line").attr("x1", 100).attr("x2", 935).attr("y1", dY(0)).attr("y2", dY(0))
  .attr("stroke", "#111").attr("stroke-width", 1.6).attr("stroke-dasharray", "11,8");
styleAxis(gD.append("g").attr("transform", "translate(100.7,0)")
  .call(d3.axisLeft(dY).tickValues([100, 0, -100, -200, -300]).tickSize(11).tickSizeOuter(0).tickPadding(3)));
const yl = gD.append("text").attr("font-size", 20).attr("fill", "#111").attr("text-anchor", "middle")
  .attr("transform", "translate(0,1258) rotate(-90)");
yl.append("tspan").attr("x", 0).attr("y", 21).text("Δ AIS max dV/dt");
yl.append("tspan").attr("x", 0).attr("y", 42).text("(recovery - baseline)");
rich(gD, 520, 1485, ["Time post V-clamp at -12 mV (seconds)"], {size: 20, anchor: "middle"});
</script>
</body>
</html>
